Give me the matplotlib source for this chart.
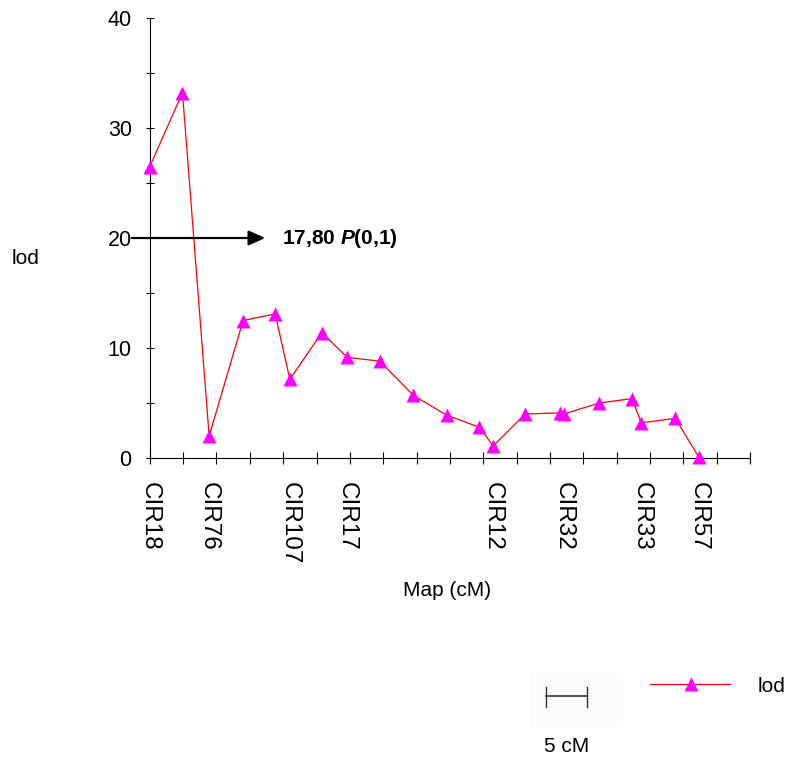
import matplotlib
matplotlib.use("Agg")
import matplotlib.pyplot as plt
from matplotlib.lines import Line2D
from matplotlib.patches import Rectangle

plt.rcParams['font.family'] = ['Liberation Sans', 'DejaVu Sans']
plt.rcParams['mathtext.fontset'] = 'custom'
plt.rcParams['mathtext.rm'] = 'Liberation Sans:bold'
plt.rcParams['mathtext.bfit'] = 'Liberation Sans:bold:italic'
plt.rcParams['mathtext.it'] = 'Liberation Sans:bold:italic'

# Data (map position in cM, LOD score)
pos_cm = [0.0, 4.9, 8.9, 14.0, 18.8, 21.0, 25.8, 29.6, 34.5, 39.5, 44.5,
          49.4, 51.5, 56.3, 61.5, 62.1, 67.4, 72.3, 73.7, 78.8, 82.3]
lod = [26.5, 33.2, 2.0, 12.5, 13.1, 7.15, 11.4, 9.15, 8.8, 5.7, 3.9,
       2.8, 1.1, 4.0, 4.1, 4.0, 5.0, 5.4, 3.2, 3.6, 0.1]
marker_names = ['CIR18', 'CIR76', 'CIR107', 'CIR17', 'CIR12', 'CIR32', 'CIR33', 'CIR57']
marker_pos = [0.0, 8.9, 21.0, 29.6, 51.5, 62.1, 73.7, 82.3]
threshold_y = 20
threshold_label = '17,80 $\\mathit{P}$(0,1)'

W, H = 792, 758
fig = plt.figure(figsize=(W / 100, H / 100), dpi=100)
ax = fig.add_axes([149.8 / W, 1 - 458 / H, (750 - 149.8) / W, (458 - 18) / H])

ax.plot(pos_cm, lod, color='#ff0000', lw=0.9, marker='^', ms=9.5,
        mfc='#ff00ff', mec='none', clip_on=False, zorder=3)

ax.set_xlim(0, 90)
ax.set_ylim(0, 40)
for s in ['top', 'right']:
    ax.spines[s].set_visible(False)
for s in ['left', 'bottom']:
    ax.spines[s].set_linewidth(0.8)

ax.xaxis.remove_overlapping_locs = False
ax.set_xticks(range(0, 91, 5))
ax.set_xticklabels([])
ax.set_xticks(marker_pos, labels=marker_names, minor=True)
ax.tick_params(axis='x', which='major', direction='inout', length=8, width=0.8)
ax.tick_params(axis='x', which='minor', length=0, pad=17, labelsize=17.5, labelrotation=270)
for lab in ax.get_xticklabels(minor=True):
    lab.set_va('top')
    lab.set_ha('center')

ax.set_yticks([0, 10, 20, 30, 40])
ax.set_yticks([5, 15, 25, 35], minor=True)
ax.tick_params(axis='y', which='both', direction='inout', length=6, width=0.8,
               labelsize=15.5, pad=10)

# threshold arrow and label
ax.annotate('', xy=(17.3, threshold_y), xytext=(-2.7, threshold_y),
            arrowprops=dict(arrowstyle='-|>,head_length=1.0,head_width=0.45',
                            color='black', lw=1.6, shrinkA=0, shrinkB=0),
            annotation_clip=False)
ax.text(19.8, threshold_y, threshold_label, fontsize=15, fontweight='bold',
        va='center', ha='left')

fig.text(447 / W, 1 - 590 / H, 'Map (cM)', fontsize=15, ha='center', va='center')
fig.text(12 / W, 1 - 258 / H, 'lod', fontsize=15, ha='left', va='center')

# legend
fig.add_artist(Line2D([650 / W, 730 / W], [1 - 684 / H] * 2, color='#ff0000', lw=0.9,
                      transform=fig.transFigure))
fig.add_artist(Line2D([690.7 / W], [1 - 684 / H], marker='^', ms=9.5, mfc='#ff00ff',
                      mec='none', transform=fig.transFigure))
fig.text(758 / W, 1 - 686 / H, 'lod', fontsize=15, ha='left', va='center')

# scale bar
fig.add_artist(Rectangle((530 / W, 1 - 727 / H), 93 / W, 54 / H, facecolor='#fbfbfb',
                         edgecolor='none', transform=fig.transFigure, zorder=0))
fig.add_artist(Line2D([545.7 / W, 586.7 / W], [1 - 696 / H] * 2, color='#333333', lw=1.2,
                      transform=fig.transFigure))
for xp in [545.7, 586.7]:
    fig.add_artist(Line2D([xp / W] * 2, [1 - 686.7 / H, 1 - 707.3 / H], color='#333333',
                          lw=1.0, transform=fig.transFigure))
fig.text(544 / W, 1 - 747 / H, '5 cM', fontsize=15, ha='left', va='center')

fig.savefig('out.png', dpi=100)
